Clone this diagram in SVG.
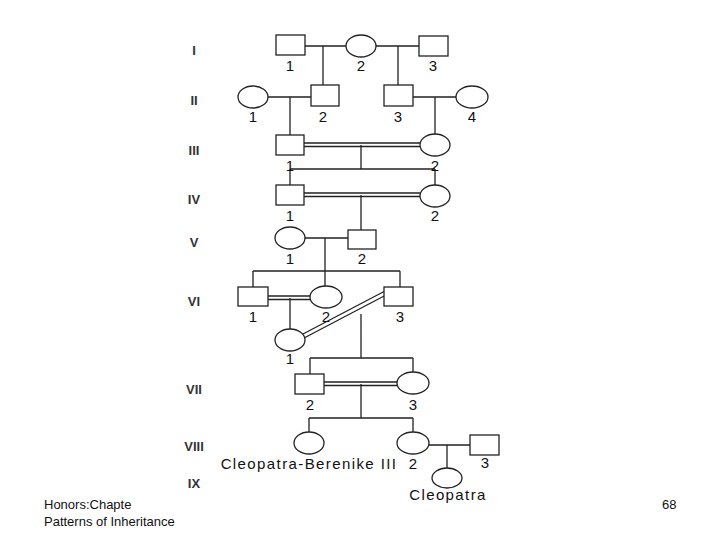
<svg xmlns="http://www.w3.org/2000/svg" width="720" height="540" viewBox="0 0 720 540">
<style>
.n{fill:#fff;stroke:#222;stroke-width:1.3}
.l{stroke:#222;stroke-width:1.3;fill:none}
text{font-family:"Liberation Sans",Arial,sans-serif;fill:#111}
.t{font-size:15px;text-anchor:middle}
.c{font-size:15px;text-anchor:middle;letter-spacing:1.4px}
.g{font-size:13px;text-anchor:middle;fill:#333;font-weight:bold}
.f{font-size:13px}
</style>
<rect width="720" height="540" fill="#fff"/>
<g id="gen-labels">
<text class="g" x="194" y="55">I</text><text class="g" x="194" y="105">II</text><text class="g" x="194" y="155">III</text><text class="g" x="194" y="204">IV</text><text class="g" x="194" y="247">V</text><text class="g" x="194" y="306">VI</text><text class="g" x="194" y="394">VII</text><text class="g" x="194" y="451">VIII</text><text class="g" x="194" y="488">IX</text>
</g>
<g id="connectors">
<path class="l" d="M305 46H347M323 46V85M376 46H419M398 46V85"/>
<path class="l" d="M268 97H311M290 97V135M413 97H456M435 97V134"/>
<path class="l" d="M304 143H420M304 146.5H420M361 145V169M290 169H435M290 169V185M435 169V185"/>
<path class="l" d="M304 193H420M304 196.5H420M361 195V230"/>
<path class="l" d="M305 238H348M325 238V271M253 271H400M253 271V287M325 271V286M400 271V287"/>
<path class="l" d="M268 296H310M268 299.5H310M290 298V329"/>
<path class="l" d="M303 334L385 291M305 337.5L387 294.5M361 314V358M310 358H413M310 358V374M413 358V372"/>
<path class="l" d="M324 382H397M324 385.5H397M361 384V418M309 418H413M309 418V432M413 418V432"/>
<path class="l" d="M429 445H470M447 445V468"/>
</g>
<g id="I-1"><rect class="n" x="276" y="35" width="29" height="20"/><text class="t" x="290" y="71">1</text></g>
<g id="I-2"><ellipse class="n" cx="361" cy="46" rx="15" ry="11"/><text class="t" x="361" y="71">2</text></g>
<g id="I-3"><rect class="n" x="419" y="36" width="29" height="20"/><text class="t" x="433" y="71">3</text></g>
<g id="II-1"><ellipse class="n" cx="253" cy="97" rx="15" ry="11"/><text class="t" x="253" y="122">1</text></g>
<g id="II-2"><rect class="n" x="311" y="85" width="28" height="21"/><text class="t" x="323" y="122">2</text></g>
<g id="II-3"><rect class="n" x="384" y="85" width="29" height="21"/><text class="t" x="398" y="122">3</text></g>
<g id="II-4"><ellipse class="n" cx="472" cy="97" rx="16" ry="11"/><text class="t" x="472" y="122">4</text></g>
<g id="III-1"><rect class="n" x="276" y="135" width="28" height="20"/><text class="t" x="290" y="171">1</text></g>
<g id="III-2"><ellipse class="n" cx="435" cy="145" rx="15" ry="11"/><text class="t" x="435" y="171">2</text></g>
<g id="IV-1"><rect class="n" x="276" y="185" width="28" height="20"/><text class="t" x="290" y="221">1</text></g>
<g id="IV-2"><ellipse class="n" cx="435" cy="196" rx="15" ry="11"/><text class="t" x="435" y="221">2</text></g>
<g id="V-1"><ellipse class="n" cx="290" cy="238" rx="15" ry="11"/><text class="t" x="290" y="264">1</text></g>
<g id="V-2"><rect class="n" x="348" y="230" width="28" height="19"/><text class="t" x="362" y="264">2</text></g>
<g id="VI-1"><rect class="n" x="238" y="287" width="30" height="19"/><text class="t" x="253" y="322">1</text></g>
<g id="VI-2"><ellipse class="n" cx="326" cy="297" rx="16" ry="11"/><text class="t" x="326" y="322">2</text></g>
<g id="VI-3"><rect class="n" x="384" y="287" width="29" height="19"/><text class="t" x="400" y="322">3</text></g>
<g id="VI-1b"><ellipse class="n" cx="290" cy="340" rx="15" ry="11"/><text class="t" x="290" y="364">1</text></g>
<g id="VII-2"><rect class="n" x="295" y="374" width="29" height="20"/><text class="t" x="310" y="410">2</text></g>
<g id="VII-3"><ellipse class="n" cx="413" cy="383" rx="16" ry="11"/><text class="t" x="413" y="410">3</text></g>
<g id="VIII-1"><ellipse class="n" cx="309" cy="443" rx="15" ry="11"/><text class="c" x="309" y="469">Cleopatra-Berenike III</text></g>
<g id="VIII-2"><ellipse class="n" cx="413" cy="443" rx="16" ry="11"/><text class="t" x="413" y="469">2</text></g>
<g id="VIII-3"><rect class="n" x="470" y="435" width="29" height="20"/><text class="t" x="485" y="468">3</text></g>
<g id="IX-1"><ellipse class="n" cx="447" cy="478" rx="15" ry="10"/><text class="c" x="448" y="500">Cleopatra</text></g>
<g id="footer">
<text class="f" x="44" y="509">Honors:Chapte</text>
<text class="f" x="44" y="526">Patterns of Inheritance</text>
<text class="f" x="662" y="509">68</text>
</g>
</svg>
